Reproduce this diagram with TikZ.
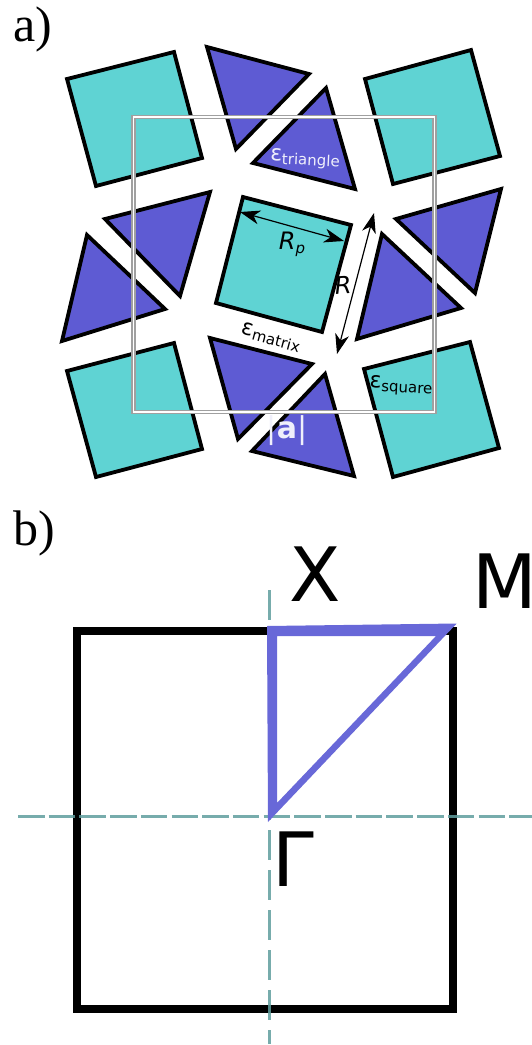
\documentclass[tikz,border=0pt]{standalone}
\usepackage{fontspec}
\setmainfont{DejaVu Sans}
\newfontfamily\lblfont{Liberation Serif}
\newfontfamily\obl{DejaVu Sans Oblique}
\usetikzlibrary{arrows.meta}
\definecolor{sqcol}{RGB}{95,211,211}
\definecolor{tricol}{RGB}{94,91,211}
\definecolor{bzcol}{RGB}{104,104,216}
\definecolor{axcol}{RGB}{96,158,158}
\definecolor{framecol}{RGB}{160,160,160}
\newcommand{\fs}[1]{\fontsize{#1}{#1}\selectfont}
\newcommand{\eps}[3]{{\fs{#1}ε}{\fs{#2}\raisebox{-3.5pt}{#3}}}
\tikzset{
  x=1pt,y=-1pt,
  sq/.style={draw=black,fill=sqcol,line width=3.8pt,miter limit=10,line join=miter},
  tri/.style={draw=black,fill=tricol,line width=3.8pt,miter limit=10,line join=miter},
  lbl/.style={inner sep=0pt,outer sep=0pt},
  dim/.style={line width=1.2pt,{Stealth[length=20pt,width=14pt,inset=6pt]}-{Stealth[length=20pt,width=14pt,inset=6pt]}},
  axis/.style={draw=axcol,line width=3pt,opacity=.85}
}
\begin{document}
\begin{tikzpicture}
\path[use as bounding box] (0,0) rectangle (532,1045);
\fill[white] (0,0) rectangle (532,1045);
% squares
\draw[sq] (67,79)--(174,52)--(202,158)--(96,186)--cycle;
\draw[sq] (365,79)--(471,50)--(500,156)--(393,184)--cycle;
\draw[sq] (67,371)--(174,343)--(202,449)--(96,477)--cycle;
\draw[sq] (364,369)--(470,342)--(499,448)--(393,477)--cycle;
\draw[sq] (243,197)--(351,225)--(322,332)--(216,303)--cycle;
% triangles
\draw[tri] (207,47)--(309,74)--(236,149)--cycle;
\draw[tri] (326,88)--(355,189)--(253,163)--cycle;
\draw[tri] (105,219)--(210,192)--(180,296)--cycle;
\draw[tri] (87,235)--(165,309)--(62,341)--cycle;
\draw[tri] (396,219)--(501,189)--(475,293)--cycle;
\draw[tri] (382,234)--(461,308)--(357,339)--cycle;
\draw[tri] (210,338)--(312,364)--(238,439)--cycle;
\draw[tri] (325,374)--(354,476)--(252,451)--cycle;
% lattice frame
\draw[draw=framecol,line width=1.1pt,double=white,double distance=1.9pt] (133.5,117) rectangle (434.5,412);
% dimension arrows
\coordinate (rpa) at (240,212);
\coordinate (rpb) at (344,241);
\coordinate (ra) at (374,213);
\coordinate (rb) at (337,354);
\draw[dim] (rpa) -- (rpb);
\draw[dim] (ra) -- (rb);
% labels a
\node[lbl,anchor=base west] (la) at (13,41.5) {\lblfont\fs{50}a)};
\node[lbl,text=white!90!tricol,rotate=-3] (etri) at (305,159) {\eps{22}{15}{triangle}};
\node[lbl,rotate=-15] (emat) at (271,337) {\eps{22}{15}{matrix}};
\node[lbl,rotate=-3] (esq) at (401,386) {\eps{22}{15}{square}};
\node[lbl] (rpl) at (292,244) {{\obl\fs{24}R}{\fs{15}\raisebox{-4pt}{\obl p}}};
\node[lbl,rotate=4] (rl) at (343,285) {\obl\fs{24}R};
\node[lbl,text=white!90!tricol] (al) at (287,431) {\fs{30}|\textbf{a}|};
% panel b
\node[lbl,anchor=base west] (lb) at (13,545) {\lblfont\fs{50}b)};
\draw[black,line width=7.8pt,miter limit=10] (76.7,631) rectangle (452.8,1009);
\draw[axis,dash pattern=on 26.5pt off 4.2pt] (18,816.7) -- (532,816.7);
\draw[axis,dash pattern=on 30pt off 10pt] (269,590) -- (269,1044);
\fill[bzcol,even odd rule] (267,626)--(456.7,623.5)--(268,822)--cycle (277,636)--(436,636)--(277,803)--cycle;
\node[lbl,anchor=base] (lx) at (315.5,601.7) {\fs{75}X};
\node[lbl,anchor=base west] (lm) at (472.7,608) {\fs{75}M};
\node[lbl,anchor=base west] (lg) at (272.7,886) {\fs{75}Γ};
\end{tikzpicture}
\end{document}
